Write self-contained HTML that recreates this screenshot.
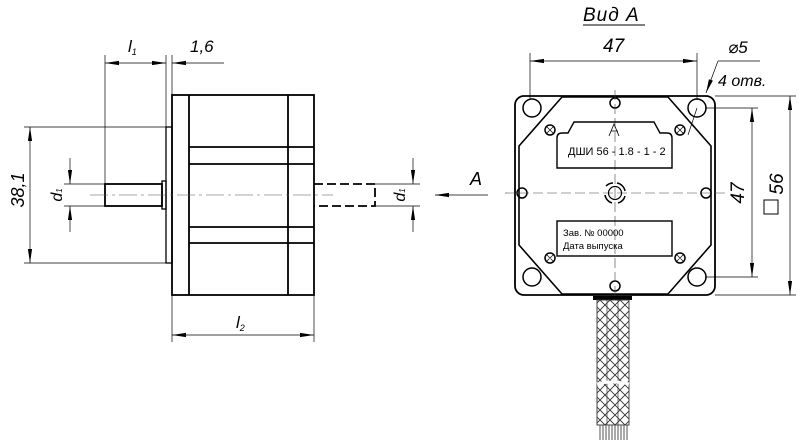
<!DOCTYPE html>
<html><head><meta charset="utf-8"><style>
html,body{margin:0;padding:0;background:#fff;}
svg{display:block}
text{font-family:"Liberation Sans","DejaVu Sans",sans-serif;font-style:italic;fill:#000;}
</style></head><body>
<svg width="800" height="440" viewBox="0 0 800 440" xmlns="http://www.w3.org/2000/svg">
<defs>
<marker id="ar" viewBox="0 0 14 6" refX="14" refY="3" markerWidth="14" markerHeight="6" orient="auto-start-reverse" markerUnits="userSpaceOnUse"><path d="M0,0.9 L14,3 L0,5.1 Z" fill="#000"/></marker>
<pattern id="hatch" width="10" height="10" patternUnits="userSpaceOnUse"><path d="M0,0 L10,10 M10,0 L0,10" stroke="#333" stroke-width="0.9"/></pattern>
</defs>
<g fill="none" stroke="#000">
<!-- LEFT VIEW -->
<g stroke-width="1.8">
<rect x="172" y="95" width="142" height="200"/>
<line x1="189" y1="95" x2="189" y2="295"/>
<line x1="288" y1="95" x2="288" y2="295"/>
<line x1="189" y1="147" x2="314" y2="147"/>
<line x1="189" y1="164" x2="314" y2="164"/>
<line x1="189" y1="227" x2="314" y2="227"/>
<line x1="189" y1="243" x2="314" y2="243"/>
<rect x="166" y="127" width="6" height="136" stroke-width="1.3"/>
<rect x="162" y="181" width="4" height="28" stroke-width="1.3"/>
<rect x="105" y="184" width="57" height="22"/>
<path d="M314,184 H375 V206 H314" stroke-dasharray="9,4"/>
</g>
<line x1="90" y1="195" x2="333" y2="195" stroke-width="0.6" stroke="#555" stroke-dasharray="18,4,3,4"/>
<g stroke-width="0.7">
<line x1="105" y1="55" x2="105" y2="184"/>
<line x1="166" y1="55" x2="166" y2="127"/>
<line x1="172" y1="55" x2="172" y2="95"/>
<line x1="105" y1="63" x2="166" y2="63" marker-start="url(#ar)" marker-end="url(#ar)"/>
<line x1="224" y1="63" x2="172" y2="63" marker-end="url(#ar)"/>
<line x1="24" y1="127" x2="166" y2="127"/>
<line x1="24" y1="263" x2="166" y2="263"/>
<line x1="30" y1="127" x2="30" y2="263" marker-start="url(#ar)" marker-end="url(#ar)"/>
<line x1="64" y1="184" x2="105" y2="184"/>
<line x1="64" y1="206" x2="105" y2="206"/>
<line x1="70" y1="158" x2="70" y2="184" marker-end="url(#ar)"/>
<line x1="70" y1="232" x2="70" y2="206" marker-end="url(#ar)"/>
<line x1="375" y1="184" x2="420" y2="184"/>
<line x1="375" y1="206" x2="420" y2="206"/>
<line x1="413" y1="158" x2="413" y2="184" marker-end="url(#ar)"/>
<line x1="413" y1="232" x2="413" y2="206" marker-end="url(#ar)"/>
<line x1="172" y1="295" x2="172" y2="342"/>
<line x1="314" y1="295" x2="314" y2="342"/>
<line x1="172" y1="335" x2="314" y2="335" marker-start="url(#ar)" marker-end="url(#ar)"/>
<line x1="488" y1="195" x2="435" y2="195" marker-end="url(#ar)"/>
</g>
<!-- RIGHT VIEW -->
<rect x="515" y="96" width="200" height="199" rx="9" stroke-width="1.8"/>
<path d="M562,97 H668 L711,146 V245 L668,294 H562 L519,245 V146 Z" stroke-width="1.6"/>
<g stroke-width="1.5">
<circle cx="532" cy="108" r="9"/><circle cx="697" cy="108" r="9"/>
<circle cx="532" cy="277" r="9"/><circle cx="697" cy="277" r="9"/>
<circle cx="615" cy="103" r="5"/><circle cx="615" cy="286" r="5"/>
<circle cx="522" cy="193" r="5"/><circle cx="706" cy="193" r="5"/>
<circle cx="550" cy="130" r="5"/><circle cx="680" cy="130" r="5"/>
<circle cx="550" cy="258" r="5"/><circle cx="680" cy="258" r="5"/>
</g>
<g stroke-width="0.7">
<path d="M546.5,126.5 l7,7 M553.5,126.5 l-7,7 M676.5,126.5 l7,7 M683.5,126.5 l-7,7 M546.5,254.5 l7,7 M553.5,254.5 l-7,7 M676.5,254.5 l7,7 M683.5,254.5 l-7,7"/>
</g>
<line x1="505" y1="193" x2="725" y2="193" stroke-width="0.6" stroke="#444" stroke-dasharray="10,4"/>
<line x1="615" y1="90" x2="615" y2="300" stroke-width="0.6" stroke="#444" stroke-dasharray="10,4"/>
<g stroke-width="1.5">
<path d="M606,186 A10,10 0 0 1 613,183 M617,183 A10,10 0 0 1 625,191 M625,196 A10,10 0 0 1 618,203 M612,203 A10,10 0 0 1 605,195"/>
<circle cx="615" cy="193" r="6.5" stroke-width="1.2"/>
</g>
<path d="M557,168 V138 Q557,133 562,133 H568 L574,122 H654 L660,133 H667 Q672,133 672,138 V168 Z" stroke-width="1.4"/>
<rect x="557" y="221" width="115" height="35" stroke-width="1.4"/>
<path d="M609,136 L614,124 L619,136 M611,131 L618,131" stroke-width="0.8"/>
<rect x="593" y="296" width="39" height="4" fill="#000" stroke="none"/>
<rect x="597" y="300" width="32" height="125" fill="url(#hatch)" stroke="#333" stroke-width="0.9"/>
<line x1="607" y1="300" x2="607" y2="425" stroke="#333" stroke-width="0.7"/>
<line x1="618" y1="300" x2="618" y2="425" stroke="#333" stroke-width="0.7"/>
<path d="M597,384 Q612,380 629,384" stroke="#fff" stroke-width="3"/>
<path d="M600,425 V440 M603,425 V440 M606,425 V440 M609,425 V440 M612,425 V440 M615,425 V440 M618,425 V440 M621,425 V440 M624,425 V440 M627,425 V440" stroke="#555" stroke-width="1"/>
<g stroke-width="0.7">
<line x1="530" y1="53" x2="530" y2="100"/>
<line x1="697" y1="53" x2="697" y2="100"/>
<line x1="530" y1="61" x2="697" y2="61" marker-start="url(#ar)" marker-end="url(#ar)"/>
<line x1="705" y1="108" x2="758" y2="108"/>
<line x1="705" y1="277" x2="758" y2="277"/>
<line x1="752" y1="108" x2="752" y2="277" marker-start="url(#ar)" marker-end="url(#ar)"/>
<line x1="715" y1="96" x2="796" y2="96"/>
<line x1="715" y1="295" x2="796" y2="295"/>
<line x1="790" y1="96" x2="790" y2="295" marker-start="url(#ar)" marker-end="url(#ar)"/>
<line x1="760" y1="61" x2="718" y2="61"/>
<line x1="718" y1="61" x2="706" y2="93" marker-end="url(#ar)"/>
<line x1="697" y1="108" x2="688" y2="135"/>
<line x1="583" y1="25" x2="645" y2="25" stroke-width="1"/>
<rect x="764" y="200" width="14" height="14" stroke-width="1"/>
</g>
</g>
<!-- TEXT -->
<text x="128" y="52" font-size="17">l<tspan font-size="9" dy="3">1</tspan></text>
<text x="190" y="52" font-size="17">1,6</text>
<text transform="translate(30,190) rotate(-90)" x="0" y="0" font-size="18" text-anchor="middle" dy="-6">38,1</text>
<text transform="translate(64,195) rotate(-90)" font-size="16" text-anchor="middle" dy="-2">d<tspan font-size="8">1</tspan></text>
<text transform="translate(407,195) rotate(-90)" font-size="16" text-anchor="middle" dy="-2">d<tspan font-size="8">1</tspan></text>
<text x="236" y="328" font-size="17">l<tspan font-size="9" dy="3">2</tspan></text>
<text x="470" y="185" font-size="18">A</text>
<text x="583" y="21" font-size="19" letter-spacing="1">Вид  А</text>
<text x="603" y="52" font-size="19">47</text>
<text x="728" y="53" font-size="17">⌀5</text>
<text x="718" y="86" font-size="16">4 отв.</text>
<text transform="translate(744,193) rotate(-90)" font-size="19" text-anchor="middle">47</text>
<text transform="translate(783,184) rotate(-90)" font-size="19" text-anchor="middle">56</text>
<text x="568" y="155" font-size="11" style="font-style:normal">ДШИ 56 - 1.8 - 1 - 2</text>
<text x="563" y="236" font-size="9.5" style="font-style:normal">Зав. № 00000</text>
<text x="563" y="249" font-size="9.5" style="font-style:normal">Дата выпуска</text>
</svg>
</body></html>
